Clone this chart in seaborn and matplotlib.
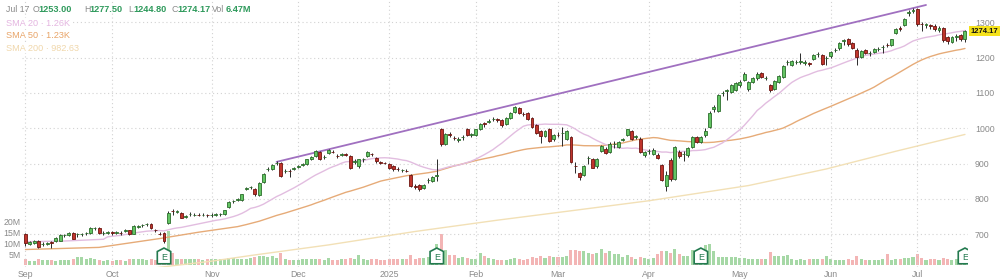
import numpy as np
import pandas as pd
import matplotlib
matplotlib.use("Agg")
import matplotlib.pyplot as plt
import seaborn as sns
from matplotlib.patches import Polygon
from matplotlib import transforms

# ---------------- data ----------------
month_labels = ["Sep", "Oct", "Nov", "Dec", "2025", "Feb", "Mar", "Apr", "May", "Jun", "Jul"]
month_start = [0, 20, 43, 63, 84, 104, 123, 144, 165, 186, 206]

open_ = [
    700, 674, 676, 680, 672, 674, 677, 681, 682, 697, 698, 704, 700, 700, 703, 704, 717, 718, 704, 704,
    706, 705, 704, 710, 711, 702, 722, 725, 728, 730, 712, 702, 704, 733, 767, 764, 761, 750, 757, 755, 756, 755, 755,
    754, 756, 757, 757, 777, 793, 798, 797, 829, 833, 828, 812, 848, 884, 885, 902, 903, 878, 880, 885,
    891, 897, 898, 914, 921, 932, 918, 929, 934, 923, 925, 926, 921, 906, 893, 912, 921, 928, 915, 904, 902,
    898, 893, 885, 881, 880, 867, 838, 840, 831, 853, 850, 864, 997, 955, 983, 973, 968, 975, 997, 982,
    982, 997, 1014, 1019, 1026, 1025, 1024, 1013, 1030, 1046, 1057, 1041, 1043, 1029, 1008, 991, 979, 998, 969,
    982, 986, 971, 974, 893, 873, 867, 916, 914, 892, 937, 942, 933, 956, 948, 968, 981, 993, 976, 971, 924,
    936, 927, 925, 895, 838, 910, 857, 933, 926, 924, 948, 974, 962, 980, 1005, 1055, 1050, 1099, 1106, 1103, 1108,
    1122, 1136, 1112, 1131, 1141, 1157, 1141, 1122, 1112, 1131, 1146, 1187, 1178, 1187, 1189, 1186, 1184, 1197, 1209, 1207, 1199,
    1204, 1221, 1226, 1248, 1252, 1240, 1223, 1203, 1221, 1212, 1216, 1224, 1230, 1237, 1236, 1269, 1285, 1293, 1326, 1333,
    1337, 1295, 1293, 1292, 1290, 1278, 1284, 1258, 1245, 1258, 1264, 1253,
]
high = [
    704, 681, 683, 683, 678, 679, 681, 693, 700, 702, 707, 706, 704, 704, 707, 721, 722, 720, 708, 709,
    710, 709, 708, 714, 713, 725, 727, 729, 732, 733, 716, 706, 707, 766, 771, 769, 764, 756, 763, 759, 760, 759, 758,
    759, 760, 761, 770, 794, 798, 803, 815, 834, 838, 831, 848, 874, 890, 899, 907, 906, 884, 884, 890,
    897, 903, 914, 921, 938, 935, 925, 942, 938, 927, 930, 931, 924, 912, 914, 917, 936, 931, 918, 908, 906,
    903, 897, 891, 886, 885, 870, 842, 843, 842, 858, 865, 913, 1000, 986, 990, 979, 975, 981, 1000, 988,
    999, 1014, 1019, 1025, 1031, 1030, 1027, 1031, 1046, 1064, 1060, 1046, 1047, 1031, 1011, 994, 994, 1001, 984,
    990, 1005, 996, 977, 905, 876, 895, 921, 917, 916, 952, 946, 960, 963, 963, 973, 999, 996, 981, 974, 936,
    942, 943, 930, 898, 880, 915, 950, 938, 936, 946, 979, 977, 978, 1000, 1048, 1066, 1098, 1106, 1112, 1126, 1132,
    1136, 1158, 1135, 1145, 1158, 1160, 1147, 1126, 1136, 1151, 1179, 1193, 1193, 1194, 1212, 1192, 1189, 1209, 1215, 1210, 1205,
    1219, 1227, 1243, 1253, 1256, 1243, 1226, 1222, 1225, 1218, 1226, 1229, 1236, 1241, 1254, 1284, 1290, 1311, 1336, 1341,
    1341, 1300, 1298, 1296, 1295, 1290, 1288, 1262, 1262, 1268, 1268, 1277.5,
]
low = [
    668, 670, 673, 660, 668, 670, 661, 679, 680, 693, 695, 686, 693, 696, 699, 702, 713, 702, 699, 700,
    699, 701, 699, 706, 698, 700, 718, 721, 724, 715, 706, 697, 676, 730, 755, 759, 745, 746, 752, 751, 752, 751, 750,
    750, 752, 753, 754, 775, 790, 794, 795, 824, 828, 808, 808, 846, 880, 882, 896, 862, 873, 862, 881,
    887, 893, 895, 910, 918, 910, 914, 926, 929, 917, 921, 921, 885, 898, 889, 905, 919, 921, 903, 899, 898,
    885, 880, 878, 876, 875, 835, 828, 822, 828, 846, 848, 852, 950, 952, 975, 966, 962, 968, 978, 975,
    978, 994, 1005, 1014, 1021, 1019, 1005, 1010, 1027, 1043, 1040, 1035, 1023, 1001, 984, 958, 975, 960, 965,
    975, 950, 968, 903, 874, 855, 864, 900, 887, 889, 934, 928, 930, 944, 945, 963, 978, 966, 969, 930, 918,
    928, 924, 912, 850, 822, 852, 855, 915, 908, 920, 945, 958, 958, 975, 1002, 1045, 1047, 1092, 1081, 1100, 1105,
    1118, 1133, 1106, 1127, 1138, 1141, 1136, 1103, 1108, 1128, 1143, 1180, 1175, 1181, 1183, 1180, 1175, 1193, 1203, 1178, 1178,
    1200, 1215, 1222, 1235, 1234, 1224, 1179, 1199, 1210, 1206, 1212, 1218, 1212, 1230, 1233, 1266, 1276, 1290, 1318, 1325,
    1290, 1275, 1285, 1280, 1275, 1272, 1245, 1238, 1240, 1248, 1248, 1244.8,
]
close = [
    676, 678, 680, 663, 673, 676, 676, 690, 698, 699, 704, 688, 701, 701, 704, 718, 719, 704, 705, 706,
    705, 706, 703, 711, 700, 723, 723, 727, 729, 717, 711, 701, 681, 761, 766, 764, 747, 752, 758, 756, 755, 756, 754,
    755, 757, 758, 768, 792, 794, 799, 813, 830, 834, 815, 845, 871, 886, 897, 903, 866, 879, 878, 887,
    893, 900, 912, 918, 935, 914, 920, 940, 933, 922, 926, 925, 888, 907, 912, 912, 933, 926, 907, 903, 901,
    888, 884, 884, 881, 879, 838, 834, 829, 840, 855, 863, 868, 955, 983, 982, 972, 970, 976, 981, 983,
    997, 1012, 1013, 1020, 1027, 1023, 1008, 1029, 1044, 1059, 1043, 1040, 1026, 1004, 987, 977, 991, 964, 981,
    981, 987, 993, 906, 892, 862, 892, 917, 889, 914, 949, 930, 957, 957, 960, 969, 997, 969, 977, 934, 933,
    937, 940, 917, 854, 867, 857, 948, 921, 926, 943, 976, 962, 974, 991, 1043, 1059, 1094, 1100, 1107, 1122, 1129,
    1131, 1155, 1131, 1141, 1155, 1144, 1141, 1108, 1134, 1148, 1176, 1188, 1190, 1188, 1190, 1187, 1183, 1207, 1210, 1181, 1200,
    1216, 1222, 1240, 1249, 1238, 1228, 1203, 1219, 1214, 1213, 1224, 1225, 1231, 1235, 1252, 1281, 1280, 1308, 1328, 1335,
    1296, 1294, 1295, 1289, 1281, 1285, 1250, 1247, 1259, 1262, 1252, 1274.17,
]
volume_m = [
    3.1, 2.0, 2.0, 2.8, 2.3, 2.3, 2.3, 2.0, 2.3, 2.4, 2.4, 3.1, 4.0, 4.0, 3.1, 3.2, 2.8, 2.3, 2.0, 2.3,
    2.0, 2.3, 2.3, 2.0, 3.1, 3.1, 2.8, 2.8, 2.4, 2.8, 2.3, 3.5, 3.1, 15.8, 5.8, 3.1, 3.1, 2.8, 3.1, 2.8, 3.1, 2.3, 2.8,
    3.1, 2.8, 2.8, 3.1, 3.4, 3.5, 2.8, 3.1, 2.8, 3.5, 4.0, 4.2, 4.2, 4.0, 4.2, 3.5, 5.8, 2.8, 2.4, 2.3,
    2.4, 2.8, 2.8, 3.1, 3.1, 3.1, 2.3, 3.5, 2.4, 2.4, 2.8, 2.8, 3.5, 2.8, 4.6, 2.8, 2.4, 3.1, 2.8, 2.3, 2.4,
    2.8, 3.1, 3.1, 2.8, 2.8, 4.6, 3.1, 3.5, 3.5, 4.0, 5.1, 9.7, 14.3, 7.2, 4.6, 4.6, 3.5, 4.0, 3.5, 3.1,
    3.1, 5.5, 4.2, 3.5, 3.1, 2.6, 2.5, 2.5, 2.8, 3.2, 3.1, 2.3, 2.8, 4.0, 3.5, 4.2, 3.5, 4.2, 4.0,
    4.0, 4.0, 4.2, 7.3, 7.2, 6.6, 6.6, 5.8, 5.1, 5.8, 7.4, 5.8, 6.6, 5.1, 5.1, 4.0, 4.6, 4.0, 3.1, 4.0, 3.5,
    3.1, 3.5, 5.1, 6.6, 6.6, 5.8, 7.4, 5.1, 4.2, 4.2, 7.2, 6.6, 8.1, 9.3, 9.7, 6.6, 4.0, 4.0, 4.0, 4.0, 3.8,
    3.5, 3.2, 2.9, 2.9, 2.9, 3.0, 3.0, 6.1, 4.2, 4.2, 4.2, 4.6, 2.8, 2.4, 2.8, 2.3, 2.8, 3.1, 2.8, 3.1, 4.2,
    2.8, 2.4, 2.6, 2.4, 3.0, 2.6, 4.2, 2.8, 2.6, 2.4, 2.6, 2.4, 2.8, 5.3, 2.6, 3.0, 2.8, 3.3, 3.5, 4.0,
    5.1, 3.3, 2.4, 2.8, 3.0, 2.6, 3.6, 3.0, 2.6, 3.1, 3.0, 6.47,
]
earnings_idx = [32, 95, 156, 217]

# moving-average lines: early part, rest from closes
sma20_head_idx = [0, 9, 18]
sma20_head = [679, 681, 686]
sma50_head_idx = [0, 17, 31, 40]
sma50_head = [657, 663, 688, 706]
sma200_idx = [25, 43, 52, 70, 90, 109, 125, 144, 167, 185, 201, 217]
sma200_val = [598, 624, 640, 670, 708, 740, 765, 795, 838, 885, 935, 982.63]

trend_idx = [58, 208]
trend_val = [905, 1349]

price_ticks = [700, 800, 900, 1000, 1100, 1200, 1300]
vol_ticks = [5, 10, 15, 20]
vol_tick_labels = ["5M", "10M", "15M", "20M"]

header_date = "Jul 17"
header_keys = ["O", "H", "L", "C", "Vol"]
header_vals = ["1253.00", "1277.50", "1244.80", "1274.17", "6.47M"]
legend_texts = ["SMA 20 \u00b7 1.26K", "SMA 50 \u00b7 1.23K", "SMA 200 \u00b7 982.63"]
last_price_label = "1274.17"

# ---------------- style ----------------
sns.set_theme(style="white")
plt.rcParams['font.family'] = ['Liberation Sans', 'DejaVu Sans']

UP_FILL, UP_EDGE = "#63c463", "#2c6e2c"
DN_FILL, DN_EDGE = "#c0342c", "#6e1510"
WICK = "#2a2a2a"
VOL_UP, VOL_DN = "#a6d8a6", "#f3b5b5"
C_SMA20, C_SMA50, C_SMA200 = "#e2bde0", "#e6ab78", "#f2e0b6"
C_TREND = "#a070c0"
TXT_GREY = "#8a8a8a"
GRID = "#d2d2d2"
TICK_FS = 6.3

n = len(close)
x = np.arange(n)
o = np.array(open_, float); c = np.array(close, float)
h = np.array(high, float); l = np.array(low, float)
up = c >= o

W, H_ = 1000, 280
left_px, right_px, bottom_px = 22, 968, 13
rect = [left_px / W, bottom_px / H_, (right_px - left_px) / W, 1 - bottom_px / H_]

fig = plt.figure(figsize=(10, 2.8), dpi=100)
axv = fig.add_axes(rect)                 # volume (below)
ax = fig.add_axes(rect, label="price")   # price (on top)
ax.patch.set_alpha(0)

xlim = (-0.8, 217.7)
for a in (ax, axv):
    a.set_xlim(*xlim)
    for s in a.spines.values():
        s.set_visible(False)

# ---- volume ----
vol_colors = [VOL_UP if u else VOL_DN for u in up]
axv.bar(x, volume_m, width=0.7, color=vol_colors, linewidth=0)
axv.set_ylim(-0.685, 121.2)
axv.yaxis.tick_left()
axv.set_yticks(vol_ticks)
axv.set_yticklabels(vol_tick_labels)
axv.tick_params(axis='y', length=0, pad=1, labelsize=TICK_FS, labelcolor=TXT_GREY)
axv.set_xticks([])
axv.grid(False)

# ---- price ----
ax.set_ylim(607.5, 1363.1)
ax.yaxis.tick_right()
ax.set_yticks(price_ticks)
ax.set_yticklabels([str(t) for t in price_ticks])
ax.tick_params(axis='y', length=0, pad=5, labelsize=TICK_FS, labelcolor=TXT_GREY)
ax.set_xticks(month_start)
ax.set_xticklabels(month_labels)
ax.tick_params(axis='x', length=0, pad=2, labelsize=TICK_FS, labelcolor=TXT_GREY)
ax.grid(True, linestyle=(0, (1, 2.5)), color=GRID, linewidth=0.8)
ax.set_axisbelow(True)

# moving averages
cs = pd.Series(c)
sma20_roll = cs.rolling(20).mean()
sma50_roll = cs.rolling(50).mean()
sma20_df = pd.DataFrame({"i": list(sma20_head_idx) + list(range(19, n)),
                         "v": list(sma20_head) + list(sma20_roll.iloc[19:])})
sma50_df = pd.DataFrame({"i": list(sma50_head_idx) + list(range(49, n)),
                         "v": list(sma50_head) + list(sma50_roll.iloc[49:])})
sma200_df = pd.DataFrame({"i": sma200_idx, "v": sma200_val})
for df, col in ((sma200_df, C_SMA200), (sma50_df, C_SMA50), (sma20_df, C_SMA20)):
    sns.lineplot(data=df, x="i", y="v", ax=ax, color=col, linewidth=1.0,
                 sort=False, estimator=None, legend=False, zorder=2)

# trend line
sns.lineplot(x=trend_idx, y=trend_val, ax=ax, color=C_TREND, linewidth=1.3,
             sort=False, estimator=None, legend=False, zorder=3)

# candles
ax.vlines(x, l, h, color=WICK, linewidth=0.7, zorder=4)
body_lo = np.minimum(o, c)
body_h = np.maximum(np.abs(c - o), 0.8)
ax.bar(x[up], body_h[up], bottom=body_lo[up], width=0.68,
       color=UP_FILL, edgecolor=UP_EDGE, linewidth=0.6, zorder=5)
ax.bar(x[~up], body_h[~up], bottom=body_lo[~up], width=0.68,
       color=DN_FILL, edgecolor=DN_EDGE, linewidth=0.6, zorder=5)
ax.set_xlabel(""); ax.set_ylabel("")
axv.set_xlabel(""); axv.set_ylabel("")

# earnings markers
bt = transforms.blended_transform_factory(ax.transData, ax.transAxes)
for e in earnings_idx:
    poly = Polygon([(e - 1.55, 0.012), (e + 1.55, 0.012), (e + 1.55, 0.058),
                    (e, 0.071), (e - 1.55, 0.058)], closed=True, transform=bt,
                   facecolor="white", edgecolor="#237a4f", linewidth=1.2, zorder=6)
    ax.add_patch(poly)
    t = ax.text(e, 0.036, "E", transform=bt, ha="center", va="center",
                fontsize=6.5, color="#237a4f", zorder=7)
    t.set_clip_on(True)

# last price tag (fits inside the figure)
fig.text(0.9985, 0, last_price_label, ha="right", va="center",
         transform=transforms.blended_transform_factory(fig.transFigure, ax.transData),
         fontsize=5.5, fontweight="bold", color="#111111",
         bbox=dict(boxstyle="square,pad=0.2", fc="#f5e21b", ec="none"), zorder=8)
fig.texts[-1].set_y(close[-1])

# header texts
def fx(px): return px / W
def fy(py): return 1 - py / H_
fig.text(fx(6), fy(9), header_date, fontsize=6.3, color=TXT_GREY, va="center", ha="left")
key_x = [33, 84, 128, 172, 212]
val_x = [38, 89, 133, 177, 226]
for k, v, kx, vx in zip(header_keys, header_vals, key_x, val_x):
    fig.text(fx(kx), fy(9), k, fontsize=6.3, color=TXT_GREY, va="center", ha="left")
    fig.text(fx(vx), fy(9), v, fontsize=6.6, color="#2f9a5c", va="center", ha="left", fontweight="bold")
leg_cols = ["#e4b5e0", "#e8a468", "#f0d7ab"]
for txt, col, py in zip(legend_texts, leg_cols, [23, 35, 48]):
    fig.text(fx(6), fy(py), txt, fontsize=6.6, color=col, va="center", ha="left",
             bbox=dict(boxstyle="square,pad=0.1", fc="white", ec="none"))

fig.savefig("out.png", dpi=100, facecolor="white")
